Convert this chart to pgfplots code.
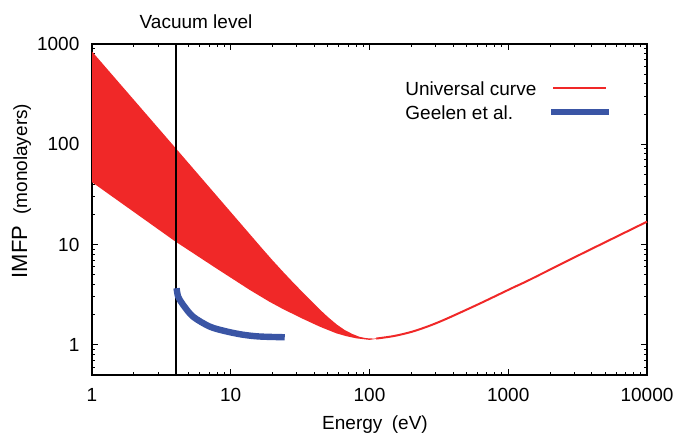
\documentclass[border=0pt]{standalone}
\usepackage{fontspec}
\setmainfont{Liberation Sans}
\usepackage{pgfplots}
\pgfplotsset{compat=1.18}
\usetikzlibrary{calc}
\definecolor{bandred}{RGB}{240,40,40}
\definecolor{geelenblue}{RGB}{58,85,165}

\begin{document}
\begin{tikzpicture}
\begin{axis}[
  xmode=log, ymode=log,
  scale only axis, width=277.5pt, height=165.5pt,
  xmin=1, xmax=10000, ymin=0.5, ymax=1000,
  xtick={1,10,100,1000,10000}, xticklabels={1,10,100,1000,10000},
  ytick={1,10,100,1000}, yticklabels={1,10,100,1000},
  minor xtick={2,3,...,9,20,30,...,90,200,300,...,900,2000,3000,...,9000},
  minor ytick={0.6,0.7,0.8,0.9,2,3,...,9,20,30,...,90,200,300,...,900},
  tick align=inside, tick pos=both,
  major tick length=3pt, minor tick length=1.6pt,
  tick style={black, line width=0.5pt},
  axis line style={line width=0.8pt},
  tick label style={font=\fontsize{9.5}{11}\selectfont},
  /pgf/number format/assume math mode=true,
  xticklabel style={yshift=-3pt},
  yticklabel style={xshift=-2.8pt},
  clip=false,
  legend plot pos=right,
  legend cell align=left,
  legend style={draw=none, fill=none, inner sep=0pt,
    at={(0.564,0.888)}, anchor=north west,
    font=\fontsize{9.5}{11}\selectfont,
    nodes={inner sep=0pt, text height=7pt, text depth=0pt},
    row sep=5pt, column sep=6pt},
]
  % universal curve band (upper edge, then lower edge back)
  \addplot[fill=bandred, draw=none, forget plot] coordinates {
    (1,842) (3.96,93.3) (17.0,9.0) (20,6.97) (23.7,5.39) (28,4.22) (33.0,3.34)
    (38,2.74) (43.7,2.26) (50,1.90) (57.9,1.60) (66,1.41) (75.5,1.28)
    (85,1.20) (95,1.165) (106,1.155) (118,1.16)
    (100,1.12) (80.6,1.16) (68,1.22) (57.9,1.30) (43.7,1.52) (33.0,1.82)
    (23.7,2.28) (19.1,2.68) (13.7,3.53) (7.93,5.75) (3.96,10.8) (1,41.9)
  } -- cycle;
  % universal curve above the minimum
  \addplot[bandred, line width=1pt, smooth, forget plot] coordinates {
    (112,1.155) (151,1.226) (204,1.355) (270,1.547) (358,1.816)
    (618,2.565) (1069,3.69) (1416,4.43) (3243,7.86) (10000,16.9)
  };
  % vacuum level
  \addplot[black, line width=1pt, forget plot] coordinates {(4,0.5) (4,1000)};
  % Geelen et al.
  \addplot[geelenblue, line width=3.2pt, smooth, forget plot] coordinates {
    (4.07,3.67) (4.18,3.02) (4.54,2.50) (5.35,1.91) (7.06,1.52)
    (9.31,1.36) (12.3,1.26) (16.2,1.21) (24.5,1.19)
  };

  \addlegendimage{legend image code/.code={\draw[bandred, line width=1pt] (1pt,0pt) -- (27.5pt,0pt);}}
  \addlegendentry{Universal curve}
  \addlegendimage{legend image code/.code={\draw[geelenblue, line width=3pt] (0pt,0pt) -- (29pt,0pt);}}
  \addlegendentry{Geelen et al.}

  \coordinate (sw) at (rel axis cs:0,0);
  \coordinate (ne) at (rel axis cs:1,1);
\end{axis}
\node[anchor=base, font=\fontsize{9.5}{11}\selectfont]
  at ($(sw)+(52pt,173pt)$) {Vacuum level};
\node[anchor=base, font=\fontsize{9.5}{11}\selectfont]
  at ($(sw)+(141.5pt,-27pt)$) {Energy\enspace(eV)};
\node[rotate=90, anchor=center]
  at ($(sw)+(-35.25pt,92pt)$)
  {\fontsize{11}{13}\selectfont IMFP\enspace\fontsize{9.5}{11}\selectfont(monolayers)};
\pgfresetboundingbox
\path[use as bounding box] ($(sw)+(-46pt,-29.5pt)$) rectangle ($(ne)+(16.5pt,22pt)$);
\end{tikzpicture}
\end{document}
